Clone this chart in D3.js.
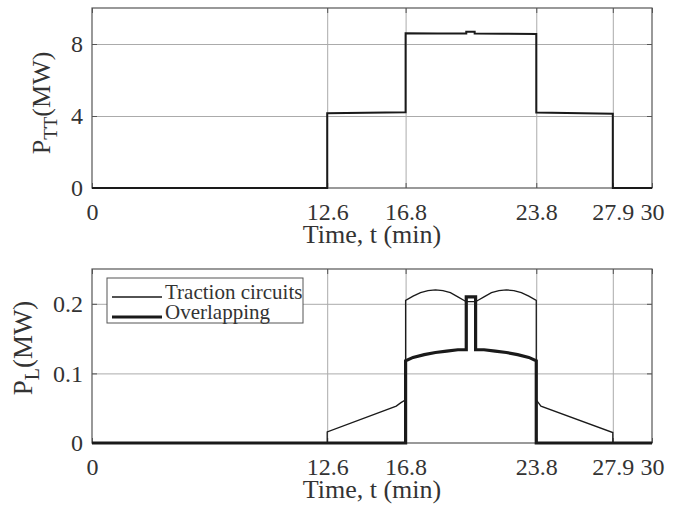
<!DOCTYPE html>
<html>
<head>
<meta charset="utf-8">
<script src="https://cdn.jsdelivr.net/npm/d3@7"></script>
<style>
  body { margin: 0; background: #fff; }
  text { font-family: "Liberation Serif", "Times New Roman", serif; fill: #333; }
</style>
</head>
<body>
<div id="chart"></div>
<script>
// tick positions (min)
var timeTicks = [0, 12.6, 16.8, 23.8, 27.9, 30];
var ttTicks = [0, 4, 8];
var lTicks = [0, 0.1, 0.2];

// upper panel: traction transformer power P_TT (MW)
var ttTime  = [0, 12.6, 12.6, 16.8, 16.8, 18.5, 20.05, 20.05, 20.5, 20.5, 22.0, 23.8, 23.8, 27.9, 27.9, 30];
var ttPower = [0, 0, 4.15, 4.21, 8.6, 8.59, 8.58, 8.68, 8.68, 8.58, 8.57, 8.55, 4.2, 4.12, 0, 0];

// lower panel: losses P_L (MW)
var tracTime  = [0, 12.6, 12.6, 16.3, 16.55, 16.8, 16.8, 17.2, 17.6, 18.0, 18.4, 18.8, 19.2, 19.6, 20.05,
                 20.55, 21.0, 21.4, 21.8, 22.2, 22.6, 23.0, 23.4, 23.8, 23.8, 24.05, 27.9, 27.9, 30];
var tracPower = [0, 0, 0.016, 0.053, 0.058, 0.062, 0.205, 0.211, 0.216, 0.219, 0.220, 0.219, 0.216, 0.210, 0.203,
                 0.203, 0.210, 0.216, 0.219, 0.220, 0.219, 0.216, 0.211, 0.205, 0.062, 0.053, 0.015, 0, 0];
var overTime  = [0, 16.8, 16.8, 17.2, 17.8, 18.4, 19.0, 19.6, 20.05, 20.05, 20.55, 20.55, 21.0, 21.6, 22.2, 22.8, 23.4, 23.8, 23.8, 30];
var overPower = [0, 0, 0.118, 0.123, 0.127, 0.130, 0.132, 0.134, 0.134, 0.21, 0.21, 0.134, 0.134, 0.132, 0.130, 0.127, 0.123, 0.118, 0, 0];

var legendNames = ["Traction circuits", "Overlapping"];

var width = 681, height = 515;
var left = 92, right = 652;
var serif = "'Liberation Serif', 'Times New Roman', serif";

var svg = d3.select("#chart").append("svg")
  .attr("width", width)
  .attr("height", height);

var x = d3.scaleLinear().domain([0, 30]).range([left, right]);

function panel(top, bottom, ymax, yTicks, yFmt) {
  var y = d3.scaleLinear().domain([0, ymax]).range([bottom, top]);
  var g = svg.append("g");

  // grid
  g.append("g")
    .attr("transform", "translate(0," + bottom + ")")
    .call(d3.axisBottom(x).tickValues(timeTicks.slice(1, -1)).tickSize(-(bottom - top)).tickFormat(""))
    .call(s => s.select(".domain").remove())
    .selectAll("line").attr("stroke", "#ababab").attr("stroke-width", 1);
  g.append("g")
    .attr("transform", "translate(" + left + ",0)")
    .call(d3.axisLeft(y).tickValues(yTicks.slice(1)).tickSize(-(right - left)).tickFormat(""))
    .call(s => s.select(".domain").remove())
    .selectAll("line").attr("stroke", "#ababab").attr("stroke-width", 1);

  // axes with inward ticks
  g.append("g")
    .attr("class", "ax")
    .attr("transform", "translate(0," + bottom + ")")
    .call(d3.axisBottom(x).tickValues(timeTicks).tickSize(-5).tickPadding(14.5).tickFormat(d3.format("")));
  g.append("g")
    .attr("class", "ax")
    .attr("transform", "translate(" + left + ",0)")
    .call(d3.axisLeft(y).tickValues(yTicks).tickSize(-5).tickPadding(9).tickFormat(yFmt));
  g.append("g")
    .attr("class", "ax")
    .attr("transform", "translate(" + right + ",0)")
    .call(d3.axisRight(y).tickValues(yTicks).tickSize(-5).tickFormat(""));
  g.append("g")
    .attr("class", "ax")
    .attr("transform", "translate(0," + top + ")")
    .call(d3.axisTop(x).tickValues(timeTicks).tickSize(-5).tickFormat(""));
  g.selectAll(".domain").remove();
  g.selectAll(".ax").attr("font-family", serif).attr("font-size", 24);
  g.selectAll(".ax .tick text")
    .attr("font-family", serif)
    .style("font-family", serif)
    .style("font-size", "24px")
    .attr("fill", "#333");
  g.selectAll(".ax .tick line").attr("stroke", "#555");

  g.append("rect")
    .attr("x", left).attr("y", top)
    .attr("width", right - left).attr("height", bottom - top)
    .attr("fill", "none").attr("stroke", "#555").attr("stroke-width", 1.2);

  g.append("text")
    .attr("x", (left + right) / 2)
    .attr("y", bottom + 55)
    .attr("text-anchor", "middle")
    .style("font-size", "26px")
    .text("Time, t (min)");

  return y;
}

var yTop = panel(8, 188, 10, ttTicks, d3.format(""));
var yBot = panel(269, 443, 0.25, lTicks, function (d) { return d == 0 ? "0" : d3.format(".1f")(d); });

function ylabel(bx, cy, sub, fs) {
  var t = svg.append("text")
    .attr("transform", "translate(" + bx + "," + cy + ") rotate(-90)")
    .attr("text-anchor", "middle")
    .style("font-size", fs + "px");
  t.append("tspan").text("P");
  t.append("tspan").attr("dy", 7).style("font-size", Math.round(fs * 0.74) + "px").text(sub);
  t.append("tspan").attr("dy", -7).text("(MW)");
}
ylabel(50, 103, "TT", 26);
ylabel(32, 348, "L", 27);

function series(times, vals, y, w) {
  var pts = times.map(function (t, i) { return [t, vals[i]]; });
  svg.append("path")
    .datum(pts)
    .attr("fill", "none")
    .attr("stroke", "#1a1a1a")
    .attr("stroke-width", w)
    .attr("stroke-linejoin", "miter")
    .attr("d", d3.line().x(d => x(d[0])).y(d => y(d[1]))(pts));
}

series(ttTime, ttPower, yTop, 2);
series(tracTime, tracPower, yBot, 1.3);
series(overTime, overPower, yBot, 3.2);

// legend
var lg = svg.append("g");
lg.append("rect")
  .attr("x", 107).attr("y", 278)
  .attr("width", 196).attr("height", 45)
  .attr("fill", "#fff").attr("stroke", "#555").attr("stroke-width", 1);
legendNames.forEach(function (name, i) {
  var yy = 297 + i * 20;
  lg.append("line")
    .attr("x1", 112).attr("x2", 162)
    .attr("y1", yy).attr("y2", yy)
    .attr("stroke", "#1a1a1a")
    .attr("stroke-width", i == 0 ? 1.3 : 3.2);
  lg.append("text")
    .attr("x", 165).attr("y", yy + 1.5)
    .style("font-size", "21px")
    .text(name);
});
</script>
</body>
</html>
